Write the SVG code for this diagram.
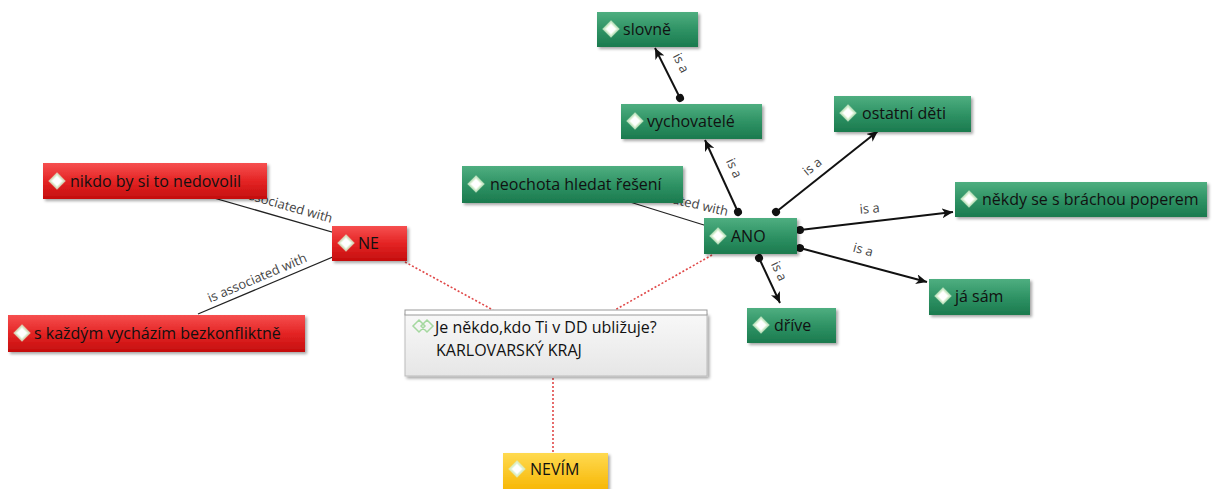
<svg xmlns="http://www.w3.org/2000/svg" xmlns:xlink="http://www.w3.org/1999/xlink" width="1213" height="489" viewBox="0 0 1213 489">
<style>
.nt{font-family:"Open Sans","Liberation Sans",sans-serif;font-size:16px;fill:#111;}
.lb{font-family:"Open Sans","Liberation Sans",sans-serif;font-size:13px;fill:#444;}
.ln{stroke:#111;stroke-width:2;fill:none;}
.as{stroke:#222;stroke-width:1.3;fill:none;}
.dash{stroke:#e04848;stroke-width:1.6;stroke-dasharray:2 2;fill:none;}
.g{fill:url(#gG);filter:url(#sh);}
.r{fill:url(#gR);filter:url(#sh);}
.y{fill:url(#gY);filter:url(#sh);}
.dia{fill:#fff;stroke:#d8f0d0;stroke-width:2.5;stroke-opacity:0.8;}
</style>
<defs>
<linearGradient id="gG" x1="0" y1="0" x2="0" y2="1"><stop offset="0" stop-color="#4fae80"/><stop offset="0.5" stop-color="#2f9365"/><stop offset="1" stop-color="#1b7a4e"/></linearGradient>
<linearGradient id="gR" x1="0" y1="0" x2="0" y2="1"><stop offset="0" stop-color="#f65050"/><stop offset="0.5" stop-color="#e42424"/><stop offset="1" stop-color="#c40e0e"/></linearGradient>
<linearGradient id="gY" x1="0" y1="0" x2="0" y2="1"><stop offset="0" stop-color="#ffda50"/><stop offset="1" stop-color="#f6b400"/></linearGradient>
<linearGradient id="gC" x1="0" y1="0" x2="0" y2="1"><stop offset="0" stop-color="#f8f8f8"/><stop offset="1" stop-color="#e6e6e6"/></linearGradient>
<filter id="sh" x="-10%" y="-20%" width="125%" height="160%"><feDropShadow dx="2" dy="2" stdDeviation="1.5" flood-color="#000" flood-opacity="0.35"/></filter>
<path id="dm" d="M0,-7 L7,0 L0,7 L-7,0Z"/>
<marker id="ah" markerUnits="userSpaceOnUse" markerWidth="12" markerHeight="10" refX="11" refY="5" orient="auto"><path d="M0,0 L11,5 L0,10 L3,5Z" fill="#111"/></marker>
<marker id="dt" markerUnits="userSpaceOnUse" markerWidth="9" markerHeight="9" refX="4.5" refY="4.5" orient="auto"><circle cx="4.5" cy="4.5" r="4" fill="#111"/></marker>
</defs>
<rect width="1213" height="489" fill="#fff"/>
<g id="connectors">
<line class="as" x1="155" y1="181" x2="370" y2="243"/>
<text class="lb" transform="translate(331,223) rotate(16)" text-anchor="end">is associated with</text>
<line class="as" x1="198" y1="314" x2="340" y2="254"/>
<text class="lb" transform="translate(259,282) rotate(-23)" text-anchor="middle">is associated with</text>
<line class="as" x1="572" y1="184" x2="720" y2="230"/>
<text class="lb" transform="translate(727,216) rotate(13)" text-anchor="end">is associated with</text>
<line class="ln" x1="738" y1="212" x2="705" y2="140" marker-start="url(#dt)" marker-end="url(#ah)"/>
<text class="lb" transform="translate(730,170) rotate(65)" text-anchor="middle">is a</text>
<line class="ln" x1="680" y1="98" x2="655" y2="48" marker-start="url(#dt)" marker-end="url(#ah)"/>
<text class="lb" transform="translate(677,65) rotate(63)" text-anchor="middle">is a</text>
<line class="ln" x1="776" y1="212" x2="878" y2="131" marker-start="url(#dt)" marker-end="url(#ah)"/>
<text class="lb" transform="translate(815,170) rotate(-39)" text-anchor="middle">is a</text>
<line class="ln" x1="800" y1="230" x2="953" y2="212" marker-start="url(#dt)" marker-end="url(#ah)"/>
<text class="lb" transform="translate(870,213) rotate(-5)" text-anchor="middle">is a</text>
<line class="ln" x1="800" y1="248" x2="927" y2="282" marker-start="url(#dt)" marker-end="url(#ah)"/>
<text class="lb" transform="translate(862,254) rotate(15)" text-anchor="middle">is a</text>
<line class="ln" x1="759" y1="258" x2="780" y2="303" marker-start="url(#dt)" marker-end="url(#ah)"/>
<text class="lb" transform="translate(775,273) rotate(65)" text-anchor="middle">is a</text>
<line class="dash" x1="405" y1="262" x2="493" y2="310"/>
<line class="dash" x1="712" y1="255" x2="615" y2="310"/>
<line class="dash" x1="553" y1="378" x2="553" y2="453"/>
</g>
<g id="n-center">
<rect x="405" y="314" width="302" height="62" fill="url(#gC)" stroke="#bbb" stroke-width="1" filter="url(#sh)"/>
<rect x="405" y="310" width="302" height="5" fill="#fff" stroke="#999" stroke-width="1"/>
<path d="M419,320 L425,326 L419,332 L413,326Z M427,320 L433,326 L427,332 L421,326Z" fill="none" stroke="#a5d8a0" stroke-width="1.5"/>
<text class="nt" x="435" y="333">Je někdo,kdo Ti v DD ubližuje?</text>
<text class="nt" x="436" y="356">KARLOVARSKÝ KRAJ</text>
</g>
<g id="n-slovne"><rect class="g" x="597" y="12" width="101" height="35"/><use href="#dm" x="611" y="29" class="dia"/><text class="nt" x="623" y="35">slovně</text></g>
<g id="n-vychovatele"><rect class="g" x="621" y="104" width="141" height="35"/><use href="#dm" x="635" y="121" class="dia"/><text class="nt" x="647" y="127">vychovatelé</text></g>
<g id="n-ostatni"><rect class="g" x="834" y="96" width="137" height="36"/><use href="#dm" x="848" y="113" class="dia"/><text class="nt" x="862" y="119">ostatní děti</text></g>
<g id="n-neochota"><rect class="g" x="462" y="166" width="221" height="37"/><use href="#dm" x="476" y="184" class="dia"/><text class="nt" x="490" y="190">neochota hledat řešení</text></g>
<g id="n-ano"><rect class="g" x="704" y="218" width="93" height="36"/><use href="#dm" x="718" y="236" class="dia"/><text class="nt" x="731" y="242">ANO</text></g>
<g id="n-drive"><rect class="g" x="747" y="308" width="89" height="35"/><use href="#dm" x="761" y="325" class="dia"/><text class="nt" x="774" y="331">dříve</text></g>
<g id="n-nekdy"><rect class="g" x="955" y="182" width="252" height="35"/><use href="#dm" x="969" y="199" class="dia"/><text class="nt" x="982" y="205">někdy se s bráchou poperem</text></g>
<g id="n-jasam"><rect class="g" x="929" y="279" width="101" height="36"/><use href="#dm" x="943" y="296" class="dia"/><text class="nt" x="955" y="302">já sám</text></g>
<g id="n-nikdo"><rect class="r" x="43" y="163" width="224" height="36"/><use href="#dm" x="57" y="181" class="dia"/><text class="nt" x="70" y="187">nikdo by si to nedovolil</text></g>
<g id="n-ne"><rect class="r" x="332" y="226" width="75" height="35"/><use href="#dm" x="346" y="243" class="dia"/><text class="nt" x="358" y="249">NE</text></g>
<g id="n-skazdym"><rect class="r" x="8" y="315" width="297" height="37"/><use href="#dm" x="22" y="333" class="dia"/><text class="nt" x="34" y="339">s každým vycházím bezkonfliktně</text></g>
<g id="n-nevim"><rect class="y" x="503" y="453" width="105" height="40"/><use href="#dm" x="517" y="469" class="dia"/><text class="nt" x="530" y="475">NEVÍM</text></g>
</svg>
